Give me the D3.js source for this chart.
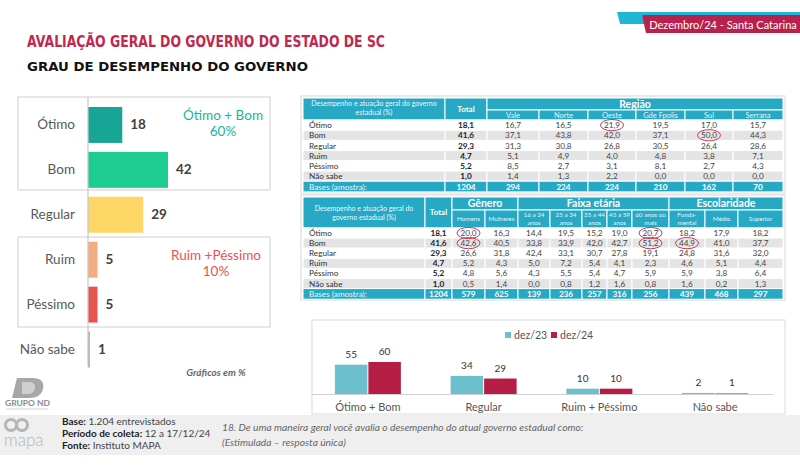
<!DOCTYPE html>
<html><head><meta charset="utf-8">
<script src="https://cdn.jsdelivr.net/npm/d3@7"></script>
<style>
html,body{margin:0;padding:0;background:#fff;}
svg{display:block;font-family:Lato,"Open Sans",sans-serif;}
</style></head>
<body>
<svg id="c" width="800" height="467"></svg>
<script>
// ---------- DATA ----------
const leftCats = ["Ótimo","Bom","Regular","Ruim","Péssimo","Não sabe"];
const leftVals = [18,42,29,5,5,1];
const leftColors = ["#17a595","#1dcc90","#fdd666","#f4ab80","#e65450","#b0b0b0"];

const rowLabels = ["Ótimo","Bom","Regular","Ruim","Péssimo","Não sabe"];
const totalVals = [18.1,41.6,29.3,4.7,5.2,1.0];
const totalBase = 1204;

const regionCols = ["Vale","Norte","Oeste","Gde Fpolis","Sul","Serrana"];
const regionVals = [
  [16.7,16.5,21.9,19.5,17.0,15.7],
  [37.1,43.8,42.0,37.1,50.0,44.3],
  [31.3,30.8,26.8,30.5,26.4,28.6],
  [5.1,4.9,4.0,4.8,3.8,7.1],
  [8.5,2.7,3.1,8.1,2.7,4.3],
  [1.4,1.3,2.2,0.0,0.0,0.0]
];
const regionBases = [294,224,224,210,162,70];
const regionHighlights = [[0,2],[1,4]];

const demoGroups = ["Gênero","Faixa etária","Escolaridade"];
const demoCols = [["Homens"],["Mulheres"],["16 a 24","anos"],["25 a 34","anos"],["35 a 44","anos"],["45 a 59","anos"],["60 anos ou","mais"],["Funda-","mental"],["Médio"],["Superior"]];
const demoGroupSpans = [2,5,3];
const demoVals = [
  [20.0,16.3,14.4,19.5,15.2,19.0,20.7,18.2,17.9,18.2],
  [42.6,40.5,33.8,33.9,42.0,42.7,51.2,44.9,41.0,37.7],
  [26.6,31.8,42.4,33.1,30.7,27.8,19.1,24.8,31.6,32.0],
  [5.2,4.3,5.0,7.2,5.4,4.1,2.3,4.6,5.1,4.4],
  [4.8,5.6,4.3,5.5,5.4,4.7,5.9,5.9,3.8,6.4],
  [0.5,1.4,0.0,0.8,1.2,1.6,0.8,1.6,0.2,1.3]
];
const demoBases = [579,625,139,236,257,316,256,439,468,297];
const demoHighlights = [[0,0],[1,0],[0,6],[1,6],[1,7]];

const compGroups = ["Ótimo + Bom","Regular","Ruim + Péssimo","Não sabe"];
const compSeries = ["dez/23","dez/24"];
const dez23 = [55,34,10,2];
const dez24 = [60,29,10,1];
const compColors = ["#6cbfcc","#b51d45"];

// ---------- DRAW ----------
const svg = d3.select("#c");
svg.append("rect").attr("width",800).attr("height",467).attr("fill","#fff");
const fmt = v => d3.format(".1f")(v).replace(".",",");
const HEAD = "#27a8c4", CRIMSON = "#c0294f";

// header tag
svg.append("polygon").attr("points","617,12 800,12 800,15 642,15 645,24 620,24").attr("fill","#1fb6d8");
svg.append("polygon").attr("points","642,15 800,15 800,33 646,33").attr("fill","#b8214e");
svg.append("text").attr("x",723).attr("y",28.5).attr("text-anchor","middle")
  .attr("fill","#fff").attr("font-size",11).attr("font-family","Lato, sans-serif")
  .text("Dezembro/24 - Santa Catarina");

// titles
svg.append("text").attr("x",27).attr("y",47).attr("fill",CRIMSON).attr("font-weight","bold")
  .attr("font-size",16.5).attr("font-family","DejaVu Sans").attr("textLength",358).attr("lengthAdjust","spacingAndGlyphs")
  .text("AVALIAÇÃO GERAL DO GOVERNO DO ESTADO DE SC");
svg.append("text").attr("x",27).attr("y",71).attr("fill","#111").attr("font-weight","bold")
  .attr("font-size",13).attr("font-family","DejaVu Sans").attr("textLength",281).attr("lengthAdjust","spacingAndGlyphs")
  .text("GRAU DE DESEMPENHO DO GOVERNO");

// ---------- left chart ----------
const lx = d3.scaleLinear().domain([0,42]).range([88,168]);
const ly = d3.scaleBand().domain(leftCats).range([102.5,372]).paddingInner(0.2).paddingOuter(0.1);
svg.append("rect").attr("x",18).attr("y",97).attr("width",252).attr("height",93).attr("fill","none").attr("stroke","#cfcfcf");
svg.append("rect").attr("x",18).attr("y",237).attr("width",252).attr("height",90).attr("fill","none").attr("stroke","#cfcfcf");
const lg = svg.append("g");
lg.selectAll("rect.bar").data(leftVals).join("rect").attr("class","bar")
  .attr("x",lx(0)).attr("y",(d,i)=>ly(leftCats[i])).attr("height",ly.bandwidth())
  .attr("width",d=>Math.max(lx(d)-lx(0),1.8)).attr("fill",(d,i)=>leftColors[i]);
svg.append("line").attr("x1",88).attr("x2",88).attr("y1",97).attr("y2",367).attr("stroke","#c8c8c8").attr("stroke-width",1.2);
lg.selectAll("text.cat").data(leftCats).join("text").attr("class","cat")
  .attr("x",75).attr("y",d=>ly(d)+ly.bandwidth()/2+4.5).attr("text-anchor","end")
  .attr("font-size",13.5).attr("fill","#595959").text(d=>d);
lg.selectAll("text.val").data(leftVals).join("text").attr("class","val")
  .attr("x",d=>Math.max(lx(d),lx(0)+2)+8).attr("y",(d,i)=>ly(leftCats[i])+ly.bandwidth()/2+4.5)
  .attr("font-size",13.5).attr("font-weight","bold").attr("fill","#404040").text(d=>d);
const sumGood = leftVals[0]+leftVals[1], sumBad = leftVals[3]+leftVals[4];
svg.append("text").attr("x",223).attr("y",120).attr("text-anchor","middle").attr("fill","#1ab3a0").attr("font-size",13.5).text("Ótimo + Bom");
svg.append("text").attr("x",223).attr("y",136).attr("text-anchor","middle").attr("fill","#1ab3a0").attr("font-size",13.5).text(sumGood+"%");
svg.append("text").attr("x",216).attr("y",260).attr("text-anchor","middle").attr("fill","#e8534f").attr("font-size",13.5).text("Ruim +Péssimo");
svg.append("text").attr("x",216).attr("y",276).attr("text-anchor","middle").attr("fill","#e8534f").attr("font-size",13.5).text(sumBad+"%");
svg.append("text").attr("x",216).attr("y",376).attr("text-anchor","middle").attr("fill","#666").attr("font-size",10)
  .attr("font-style","italic").attr("font-weight","bold").text("Gráficos em %");

// ---------- tables ----------
function cellRect(g,x0,x1,y0,y1,fill){
  g.append("rect").attr("x",x0).attr("y",y0).attr("width",x1-x0).attr("height",y1-y0)
   .attr("fill",fill).attr("stroke","#fff").attr("stroke-width",1);
}
function drawBody(g, xs, y0, rh, totals, vals, bases, base){
  rowLabels.forEach((lab,r)=>{
    const ya = y0+r*rh, yb = ya+rh, fill = r%2 ? "#e4e4e4" : "#ffffff";
    for(let c=0;c<xs.length-1;c++) cellRect(g,xs[c],xs[c+1],ya,yb,fill);
    const ty = ya+rh/2+3;
    g.append("text").attr("x",xs[0]+6).attr("y",ty).attr("font-size",8.2).attr("fill","#333").text(lab);
    g.append("text").attr("x",(xs[1]+xs[2])/2).attr("y",ty).attr("text-anchor","middle").attr("font-size",8.2)
      .attr("font-weight","bold").attr("fill","#222").text(fmt(totals[r]));
    vals[r].forEach((v,c)=>{
      g.append("text").attr("x",(xs[c+2]+xs[c+3])/2).attr("y",ty).attr("text-anchor","middle")
        .attr("font-size",8.2).attr("fill","#444").text(fmt(v));
    });
  });
  const ya = y0+rowLabels.length*rh, yb = ya+rh+0.5;
  for(let c=0;c<xs.length-1;c++) cellRect(g,xs[c],xs[c+1],ya,yb,HEAD);
  const ty = ya+rh/2+3.3;
  g.append("text").attr("x",xs[0]+6).attr("y",ty).attr("font-size",8.2).attr("fill","#e8f7fb").text("Bases (amostra):");
  g.append("text").attr("x",(xs[1]+xs[2])/2).attr("y",ty).attr("text-anchor","middle").attr("font-size",8.2)
    .attr("font-weight","bold").attr("fill","#fff").text(base);
  bases.forEach((b,c)=>g.append("text").attr("x",(xs[c+2]+xs[c+3])/2).attr("y",ty).attr("text-anchor","middle")
    .attr("font-size",8.2).attr("font-weight","bold").attr("fill","#fff").text(b));
}
function highlight(g, xs, y0, rh, list){
  list.forEach(([r,c])=>{
    g.append("ellipse").attr("cx",(xs[c+2]+xs[c+3])/2).attr("cy",y0+r*rh+rh/2).attr("rx",11.5).attr("ry",5.6)
      .attr("fill","none").attr("stroke","#c23a5e").attr("stroke-width",1);
  });
}

// Table 1
const t1x = [303,445,487,539,588,636,685,733,783];
const t1 = svg.append("g");
t1.append("rect").attr("x",301).attr("y",96).attr("width",484).attr("height",97).attr("fill","none").attr("stroke","#d6d6d6");
cellRect(t1,t1x[0],t1x[1],98,120,HEAD);
cellRect(t1,t1x[1],t1x[2],98,120,HEAD);
cellRect(t1,t1x[2],t1x[8],98,110,HEAD);
t1.append("text").attr("x",(t1x[0]+t1x[1])/2).attr("y",106).attr("text-anchor","middle").attr("font-size",7).attr("fill","#eaf8fc").text("Desempenho e atuação geral do governo");
t1.append("text").attr("x",(t1x[0]+t1x[1])/2).attr("y",115).attr("text-anchor","middle").attr("font-size",7).attr("fill","#eaf8fc").text("estadual (%)");
t1.append("text").attr("x",(t1x[1]+t1x[2])/2).attr("y",112).attr("text-anchor","middle").attr("font-size",8).attr("font-weight","bold").attr("fill","#fff").text("Total");
t1.append("text").attr("x",(t1x[2]+t1x[8])/2).attr("y",108).attr("text-anchor","middle").attr("font-size",10.5).attr("font-weight","bold").attr("fill","#fff").text("Região");
regionCols.forEach((c,i)=>{
  cellRect(t1,t1x[i+2],t1x[i+3],110,120,HEAD);
  t1.append("text").attr("x",(t1x[i+2]+t1x[i+3])/2).attr("y",117.5).attr("text-anchor","middle").attr("font-size",7.5).attr("fill","#e2f5fa").text(c);
});
drawBody(t1,t1x,120,10.2,totalVals,regionVals,regionBases,totalBase);
highlight(t1,t1x,120,10.2,regionHighlights);

// Table 2
const t2x = [303,425,452,485,518,550,582,607,632,669,705,738,783];
const t2 = svg.append("g");
t2.append("rect").attr("x",301).attr("y",195).attr("width",484).attr("height",105).attr("fill","none").attr("stroke","#d6d6d6");
cellRect(t2,t2x[0],t2x[1],197,228,HEAD);
cellRect(t2,t2x[1],t2x[2],197,228,HEAD);
t2.append("text").attr("x",(t2x[0]+t2x[1])/2).attr("y",211).attr("text-anchor","middle").attr("font-size",7).attr("fill","#eaf8fc").text("Desempenho e atuação geral do");
t2.append("text").attr("x",(t2x[0]+t2x[1])/2).attr("y",220).attr("text-anchor","middle").attr("font-size",7).attr("fill","#eaf8fc").text("governo estadual (%)");
t2.append("text").attr("x",(t2x[1]+t2x[2])/2).attr("y",215).attr("text-anchor","middle").attr("font-size",8).attr("font-weight","bold").attr("fill","#fff").text("Total");
let ci = 0;
demoGroups.forEach((gname,gi)=>{
  const a = t2x[ci+2], b = t2x[ci+2+demoGroupSpans[gi]];
  cellRect(t2,a,b,197,210,HEAD);
  t2.append("text").attr("x",(a+b)/2).attr("y",207).attr("text-anchor","middle").attr("font-size",10.5).attr("font-weight","bold").attr("fill","#fff").text(gname);
  ci += demoGroupSpans[gi];
});
demoCols.forEach((lines,i)=>{
  const a = t2x[i+2], b = t2x[i+3];
  cellRect(t2,a,b,210,228,HEAD);
  if(lines.length===1){
    t2.append("text").attr("x",(a+b)/2).attr("y",221).attr("text-anchor","middle").attr("font-size",6.3).attr("fill","#e2f5fa").text(lines[0]);
  } else {
    lines.forEach((l,k)=>t2.append("text").attr("x",(a+b)/2).attr("y",217+k*7.5).attr("text-anchor","middle").attr("font-size",6.3).attr("fill","#e2f5fa").text(l));
  }
});
drawBody(t2,t2x,228,10.1,totalVals,demoVals,demoBases,totalBase);
highlight(t2,t2x,228,10.1,demoHighlights);

// ---------- comparison chart ----------
svg.append("rect").attr("x",312).attr("y",320).attr("width",473).attr("height",94).attr("fill","none").attr("stroke","#dcdcdc");
const cx = d3.scaleBand().domain(compGroups).range([310,773]);
const cs = d3.scaleBand().domain(compSeries).range([-33,33]).paddingInner(0.03);
const cy = d3.scaleLinear().domain([0,60]).range([394,362]);
const cg = svg.append("g");
const compData = compGroups.map((g,i)=>({g, vals:[dez23[i],dez24[i]]}));
const grp = cg.selectAll("g.grp").data(compData).join("g").attr("class","grp")
  .attr("transform",d=>`translate(${cx(d.g)+cx.bandwidth()/2},0)`);
grp.selectAll("rect").data(d=>d.vals.map((v,k)=>({v,s:compSeries[k],k}))).join("rect")
  .attr("x",d=>cs(d.s)).attr("width",cs.bandwidth()).attr("y",d=>cy(d.v)).attr("height",d=>cy(0)-cy(d.v))
  .attr("fill",d=>compColors[d.k]);
grp.selectAll("text").data(d=>d.vals.map((v,k)=>({v,s:compSeries[k],k}))).join("text")
  .attr("x",d=>cs(d.s)+cs.bandwidth()/2).attr("y",d=>cy(d.v)-7).attr("text-anchor","middle")
  .attr("font-size",10).attr("fill","#333").text(d=>d.v);
cg.append("line").attr("x1",312).attr("x2",773).attr("y1",394.5).attr("y2",394.5).attr("stroke","#d0d0d0");
cg.selectAll("text.cl").data(compGroups).join("text").attr("class","cl")
  .attr("x",d=>cx(d)+cx.bandwidth()/2).attr("y",411).attr("text-anchor","middle").attr("font-size",11).attr("fill","#555").text(d=>d);
// legend
const leg = cg.append("g").attr("transform","translate(505,338)");
compSeries.forEach((s,k)=>{
  leg.append("rect").attr("x",k*46).attr("y",-6).attr("width",6).attr("height",6).attr("fill",compColors[k]);
  leg.append("text").attr("x",k*46+9).attr("y",0.5).attr("font-size",10.5).attr("fill","#555").text(s);
});

// ---------- footer ----------
svg.append("rect").attr("x",0).attr("y",415).attr("width",800).attr("height",40).attr("fill","#efefef");
// Grupo ND logo
svg.append("path").attr("d","M17,378 L34,378 Q45,379 43,389 Q41,398 29,398 L12,398 Z").attr("fill","#a7a7a7");
svg.append("path").attr("d","M22,382 L30,382 Q36,383 35,388 Q34,394 28,394 L22,394 Z").attr("fill","#cfcfcf");
svg.append("text").attr("x",5).attr("y",406).attr("font-size",8).attr("font-weight","bold").attr("fill","#8a8a8a")
  .attr("textLength",45).attr("lengthAdjust","spacingAndGlyphs").text("GRUPO ND");
svg.append("line").attr("x1",6).attr("x2",48).attr("y1",409).attr("y2",409).attr("stroke","#d0d0d0").attr("stroke-width",1);
// mapa logo
[[11,425],[22,425]].forEach(([x,y])=>{
  svg.append("circle").attr("cx",x).attr("cy",y).attr("r",5.5).attr("fill","none").attr("stroke","#b5b5b5").attr("stroke-width",3);
});
svg.append("text").attr("x",4).attr("y",446).attr("font-size",17).attr("fill","#b5b5b5").attr("font-weight","300").text("mapa");

const ft = svg.append("g").attr("font-size",10).attr("fill","#333");
[["Base:"," 1.204 entrevistados",425],["Período de coleta:"," 12 a 17/12/24",437],["Fonte:"," Instituto MAPA",449]].forEach(([b,r,y])=>{
  const t = ft.append("text").attr("x",62).attr("y",y);
  t.append("tspan").attr("font-weight","bold").attr("fill","#222").text(b);
  t.append("tspan").attr("fill","#444").text(r);
});
svg.append("text").attr("x",222).attr("y",431).attr("font-size",10.2).attr("font-style","italic").attr("fill","#666")
  .text("18. De uma maneira geral você avalia o desempenho do atual governo estadual como:");
svg.append("text").attr("x",222).attr("y",446).attr("font-size",10.2).attr("font-style","italic").attr("fill","#666")
  .text("(Estimulada – resposta única)");
</script>
</body></html>
